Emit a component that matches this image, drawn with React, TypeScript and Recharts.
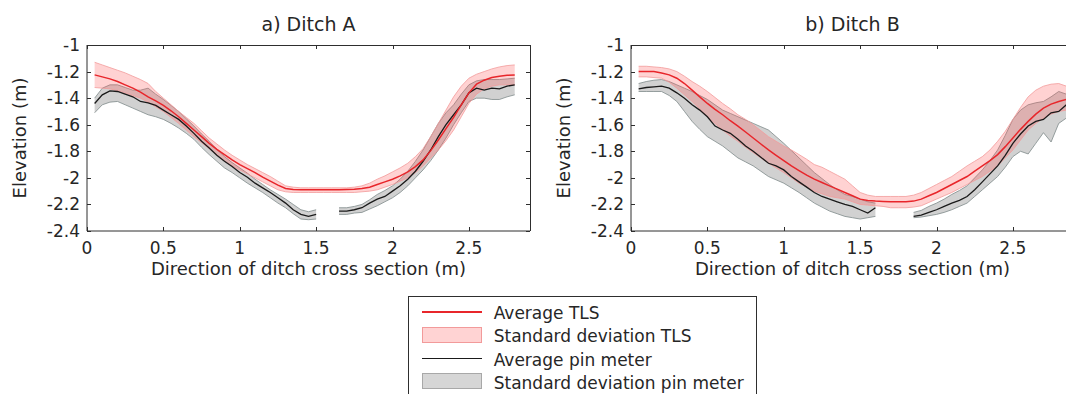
import { ComposedChart, Area, Line, XAxis, YAxis } from "recharts";

// positions along the cross section (m)
const distance = [
  0.05, 0.1, 0.15, 0.2, 0.25, 0.3, 0.35, 0.4, 0.45, 0.5,
  0.55, 0.6, 0.65, 0.7, 0.75, 0.8, 0.85, 0.9, 0.95, 1,
  1.05, 1.1, 1.15, 1.2, 1.25, 1.3, 1.35, 1.4, 1.45, 1.5,
  1.55, 1.6, 1.65, 1.7, 1.75, 1.8, 1.85, 1.9, 1.95, 2,
  2.05, 2.1, 2.15, 2.2, 2.25, 2.3, 2.35, 2.4, 2.45, 2.5,
  2.55, 2.6, 2.65, 2.7, 2.75, 2.8, 2.85,
];

// Ditch A
const tlsMeanA = [
  -1.225, -1.24, -1.255, -1.275, -1.3, -1.325, -1.355, -1.39, -1.42, -1.455,
  -1.495, -1.54, -1.59, -1.64, -1.69, -1.74, -1.785, -1.825, -1.865, -1.9,
  -1.93, -1.96, -1.995, -2.025, -2.055, -2.08, -2.088, -2.09, -2.09, -2.09,
  -2.09, -2.09, -2.09, -2.088, -2.085, -2.08, -2.07, -2.05, -2.03, -2.01,
  -1.985, -1.955, -1.915, -1.865, -1.795, -1.715, -1.63, -1.545, -1.45, -1.36,
  -1.295, -1.265, -1.245, -1.235, -1.228, -1.225, null,
];
const tlsHighA = [
  -1.13, -1.15, -1.17, -1.19, -1.21, -1.235, -1.26, -1.29, -1.35, -1.4,
  -1.45, -1.5, -1.545, -1.59, -1.645, -1.7, -1.745, -1.79, -1.83, -1.865,
  -1.9, -1.93, -1.96, -1.99, -2.025, -2.06, -2.07, -2.075, -2.075, -2.075,
  -2.075, -2.075, -2.075, -2.075, -2.07, -2.06, -2.04, -2.01, -1.985, -1.955,
  -1.925, -1.89, -1.84, -1.78, -1.69, -1.59, -1.49, -1.39, -1.31, -1.25,
  -1.22, -1.2, -1.18, -1.165, -1.155, -1.15, null,
];
const tlsLowA = [
  -1.32, -1.325, -1.33, -1.345, -1.36, -1.38, -1.4, -1.43, -1.465, -1.5,
  -1.545, -1.59, -1.64, -1.69, -1.735, -1.78, -1.83, -1.875, -1.91, -1.94,
  -1.97, -2, -2.03, -2.06, -2.09, -2.105, -2.11, -2.11, -2.11, -2.11,
  -2.11, -2.11, -2.11, -2.11, -2.11, -2.105, -2.1, -2.09, -2.07, -2.05,
  -2.025, -2, -1.96, -1.91, -1.85, -1.79, -1.72, -1.64, -1.54, -1.44,
  -1.37, -1.33, -1.31, -1.3, -1.3, -1.3, null,
];
const pinMeanA = [
  -1.44, -1.375, -1.345, -1.35, -1.37, -1.39, -1.425, -1.435, -1.455, -1.49,
  -1.525, -1.56, -1.61, -1.665, -1.725, -1.775, -1.83, -1.875, -1.915, -1.96,
  -1.995, -2.04, -2.075, -2.11, -2.15, -2.19, -2.24, -2.275, -2.29, -2.275,
  null, null, -2.25, -2.25, -2.24, -2.225, -2.19, -2.16, -2.14, -2.1,
  -2.06, -2.01, -1.95, -1.875, -1.79, -1.69, -1.6, -1.525, -1.45, -1.36,
  -1.325, -1.34, -1.325, -1.33, -1.31, -1.3, null,
];
const pinHighA = [
  -1.4, -1.325, -1.3, -1.3, -1.32, -1.34, -1.34, -1.325, -1.37, -1.41,
  -1.455, -1.5, -1.555, -1.61, -1.67, -1.725, -1.785, -1.84, -1.885, -1.925,
  -1.965, -2.01, -2.05, -2.09, -2.125, -2.16, -2.2, -2.24, -2.255, -2.24,
  null, null, -2.225, -2.225, -2.215, -2.2, -2.165, -2.125, -2.095, -2.06,
  -2.01, -1.95, -1.875, -1.79, -1.69, -1.59, -1.51, -1.45, -1.37, -1.3,
  -1.27, -1.26, -1.26, -1.26, -1.255, -1.25, null,
];
const pinLowA = [
  -1.51, -1.45, -1.43, -1.425, -1.45, -1.475, -1.5, -1.525, -1.54, -1.56,
  -1.59, -1.625, -1.665, -1.71, -1.77, -1.825, -1.875, -1.925, -1.96, -2,
  -2.04, -2.075, -2.11, -2.15, -2.19, -2.225, -2.27, -2.31, -2.315, -2.31,
  null, null, -2.275, -2.275, -2.265, -2.26, -2.235, -2.21, -2.18, -2.15,
  -2.11, -2.06, -2, -1.94, -1.87, -1.79, -1.7, -1.6, -1.51, -1.425,
  -1.4, -1.4, -1.41, -1.41, -1.39, -1.375, null,
];

// Ditch B
const tlsMeanB = [
  -1.2, -1.2, -1.2, -1.21, -1.225, -1.25, -1.29, -1.34, -1.39, -1.44,
  -1.485, -1.525, -1.57, -1.61, -1.655, -1.7, -1.745, -1.79, -1.83, -1.87,
  -1.91, -1.945, -1.98, -2.01, -2.035, -2.06, -2.085, -2.11, -2.135, -2.16,
  -2.17, -2.175, -2.178, -2.18, -2.18, -2.18, -2.175, -2.16, -2.135, -2.11,
  -2.08, -2.05, -2.02, -1.99, -1.95, -1.91, -1.87, -1.825, -1.765, -1.7,
  -1.635, -1.575, -1.52, -1.475, -1.445, -1.425, -1.41,
];
const tlsHighB = [
  -1.16, -1.16, -1.165, -1.17, -1.18, -1.2, -1.235, -1.275, -1.31, -1.35,
  -1.395, -1.44, -1.48, -1.525, -1.56, -1.6, -1.645, -1.69, -1.725, -1.76,
  -1.79, -1.825, -1.86, -1.9, -1.92, -1.95, -1.98, -2.01, -2.06, -2.11,
  -2.13, -2.14, -2.14, -2.14, -2.14, -2.14, -2.13, -2.11, -2.08, -2.05,
  -2.02, -1.99, -1.95, -1.91, -1.875, -1.84, -1.79, -1.725, -1.65, -1.56,
  -1.47, -1.39, -1.34, -1.31, -1.295, -1.29, -1.31,
];
const tlsLowB = [
  -1.24, -1.24, -1.245, -1.25, -1.28, -1.325, -1.375, -1.425, -1.48, -1.54,
  -1.59, -1.64, -1.685, -1.725, -1.77, -1.81, -1.85, -1.89, -1.925, -1.96,
  -2, -2.04, -2.07, -2.1, -2.12, -2.14, -2.15, -2.16, -2.18, -2.2,
  -2.205, -2.21, -2.215, -2.225, -2.225, -2.225, -2.22, -2.21, -2.185, -2.16,
  -2.135, -2.11, -2.08, -2.05, -2.02, -1.99, -1.95, -1.91, -1.85, -1.79,
  -1.715, -1.64, -1.59, -1.55, -1.52, -1.5, -1.49,
];
const pinMeanB = [
  -1.33, -1.32, -1.315, -1.31, -1.325, -1.36, -1.4, -1.45, -1.49, -1.54,
  -1.61, -1.64, -1.665, -1.71, -1.76, -1.8, -1.845, -1.89, -1.91, -1.94,
  -1.99, -2.03, -2.07, -2.11, -2.14, -2.16, -2.18, -2.2, -2.215, -2.24,
  -2.265, -2.225, null, null, null, null, -2.29, -2.28, -2.26, -2.24,
  -2.215, -2.19, -2.17, -2.14, -2.09, -2.03, -1.97, -1.91, -1.83, -1.74,
  -1.67, -1.61, -1.575, -1.56, -1.51, -1.5, -1.45,
];
const pinHighB = [
  -1.29, -1.275, -1.265, -1.26, -1.275, -1.3, -1.325, -1.35, -1.38, -1.41,
  -1.45, -1.49, -1.515, -1.54, -1.565, -1.59, -1.615, -1.64, -1.69, -1.74,
  -1.795, -1.85, -1.905, -1.96, -2.005, -2.05, -2.09, -2.125, -2.14, -2.16,
  -2.18, -2.19, null, null, null, null, -2.26, -2.245, -2.215, -2.19,
  -2.16, -2.125, -2.095, -2.06, -2, -1.94, -1.87, -1.79, -1.68, -1.56,
  -1.49, -1.45, -1.435, -1.425, -1.39, -1.35, -1.37,
];
const pinLowB = [
  -1.35, -1.35, -1.35, -1.35, -1.38, -1.425, -1.5, -1.575, -1.635, -1.69,
  -1.725, -1.76, -1.805, -1.85, -1.88, -1.91, -1.95, -1.99, -2.015, -2.04,
  -2.075, -2.11, -2.15, -2.19, -2.22, -2.25, -2.27, -2.29, -2.3, -2.31,
  -2.3, -2.29, null, null, null, null, -2.3, -2.295, -2.285, -2.275,
  -2.26, -2.24, -2.215, -2.19, -2.14, -2.09, -2.04, -1.99, -1.92, -1.84,
  -1.8, -1.82, -1.74, -1.66, -1.73, -1.59, -1.55,
];

const xTicks = [0, 0.5, 1, 1.5, 2, 2.5];
const yTicks = [-2.4, -2.2, -2, -1.8, -1.6, -1.4, -1.2, -1];
const X_MIN = 0;
const X_MAX = 2.9;
const Y_MIN = -2.4;
const Y_MAX = -1;

const FONT = '"DejaVu Sans", "Liberation Sans", sans-serif';
const INK = "#262626";
const AXIS = "#2e2e2e";
const RED = "#e8262b";
const PINK_FILL = "#ff5a5a";
const PINK_EDGE = "#f29a9a";
const GREY_FILL = "#9a9a9a";
const GREY_EDGE = "#7f8a8a";

function buildRows(
  tlsMean: (number | null)[],
  tlsLow: (number | null)[],
  tlsHigh: (number | null)[],
  pinMean: (number | null)[],
  pinLow: (number | null)[],
  pinHigh: (number | null)[]
) {
  return distance.map((x, i) => ({
    x,
    tls: tlsMean[i],
    tlsBand: tlsLow[i] == null ? null : [tlsLow[i], tlsHigh[i]],
    pin: pinMean[i],
    pinBand: pinLow[i] == null ? null : [pinLow[i], pinHigh[i]],
  }));
}

const rowsA = buildRows(tlsMeanA, tlsLowA, tlsHighA, pinMeanA, pinLowA, pinHighA);
const rowsB = buildRows(tlsMeanB, tlsLowB, tlsHighB, pinMeanB, pinLowB, pinHighB);

const W = 560;
const H = 300;
const Y_AXIS_W = 72;
const X_AXIS_H = 69;
const MARGIN = { top: 45, right: 30, bottom: 0, left: 15 };
const PLOT_L = MARGIN.left + Y_AXIS_W;
const PLOT_W = W - PLOT_L - MARGIN.right;
const PLOT_H = H - MARGIN.top - X_AXIS_H;
const TICK = 4;
const PANEL_LEFT = [0, 544];

// top and right sides of the MATLAB box plus inward ticks
function BoxEdges({ left }: { left: number }) {
  const px = (t: number) => left + PLOT_L + ((t - X_MIN) / (X_MAX - X_MIN)) * PLOT_W;
  const py = (t: number) => MARGIN.top + ((Y_MAX - t) / (Y_MAX - Y_MIN)) * PLOT_H;
  const mark = { position: "absolute" as const, background: AXIS };
  const x0 = left + PLOT_L;
  return (
    <>
      <div style={{ ...mark, left: x0, top: MARGIN.top, width: PLOT_W + 1, height: 1 }} />
      <div style={{ ...mark, left: x0 + PLOT_W, top: MARGIN.top, width: 1, height: PLOT_H }} />
      {xTicks.map((t) => (
        <div key={`b${t}`} style={{ ...mark, left: Math.round(px(t)), top: MARGIN.top + PLOT_H - TICK, width: 1, height: TICK }} />
      ))}
      {xTicks.map((t) => (
        <div key={`t${t}`} style={{ ...mark, left: Math.round(px(t)), top: MARGIN.top, width: 1, height: TICK }} />
      ))}
      {yTicks.map((t) => (
        <div key={`l${t}`} style={{ ...mark, left: x0, top: Math.round(py(t)), width: TICK, height: 1 }} />
      ))}
      {yTicks.map((t) => (
        <div key={`r${t}`} style={{ ...mark, left: x0 + PLOT_W - TICK, top: Math.round(py(t)), width: TICK, height: 1 }} />
      ))}
    </>
  );
}

function DitchPanel({ title, rows, left }: { title: string; rows: any[]; left: number }) {
  return (
    <div style={{ position: "absolute", left, top: 0 }}>
      <div
        style={{
          position: "absolute",
          left: PLOT_L,
          width: PLOT_W,
          top: 15,
          textAlign: "center",
          fontSize: 19,
          lineHeight: "19px",
          color: INK,
        }}
      >
        {title}
      </div>
      <ComposedChart width={W} height={H} data={rows} margin={MARGIN}>
        <XAxis
          dataKey="x"
          type="number"
          domain={[X_MIN, X_MAX]}
          ticks={xTicks}
          tickLine={false}
          tickSize={0}
          tickMargin={11}
          height={X_AXIS_H}
          stroke={AXIS}
          strokeWidth={1}
          tick={{ fill: INK, fontSize: 17 }}
          label={{
            value: "Direction of ditch cross section (m)",
            position: "insideBottom",
            offset: 25,
            fill: INK,
            fontSize: 18,
          }}
        />
        <YAxis
          type="number"
          domain={[Y_MIN, Y_MAX]}
          ticks={yTicks}
          width={Y_AXIS_W}
          tickLine={false}
          tickSize={0}
          tickMargin={7}
          stroke={AXIS}
          strokeWidth={1}
          tick={{ fill: INK, fontSize: 17 }}
          label={{
            value: "Elevation (m)",
            angle: -90,
            position: "insideLeft",
            offset: 4.5,
            fill: INK,
            fontSize: 18,
            style: { textAnchor: "middle" },
          }}
        />
        <Area
          dataKey="pinBand"
          type="linear"
          fill={GREY_FILL}
          fillOpacity={0.45}
          stroke={GREY_EDGE}
          strokeWidth={0.8}
          dot={false}
          activeDot={false}
          isAnimationActive={false}
        />
        <Area
          dataKey="tlsBand"
          type="linear"
          fill={PINK_FILL}
          fillOpacity={0.27}
          stroke={PINK_EDGE}
          strokeWidth={0.8}
          dot={false}
          activeDot={false}
          isAnimationActive={false}
        />
        <Line
          dataKey="pin"
          type="linear"
          stroke="#1a1a1a"
          strokeWidth={1.3}
          dot={false}
          activeDot={false}
          isAnimationActive={false}
        />
        <Line
          dataKey="tls"
          type="linear"
          stroke={RED}
          strokeWidth={1.5}
          dot={false}
          activeDot={false}
          isAnimationActive={false}
        />
      </ComposedChart>
    </div>
  );
}

function LegendBox() {
  const text = {
    position: "absolute" as const,
    left: 84.7,
    fontSize: 17,
    lineHeight: "17px",
    color: INK,
    whiteSpace: "nowrap" as const,
  };
  const sample = { position: "absolute" as const, left: 13, width: 60 };
  return (
    <div
      style={{
        position: "absolute",
        left: 408,
        top: 296,
        width: 349,
        height: 110,
        border: `1px solid ${AXIS}`,
        background: "#fff",
        boxSizing: "border-box",
      }}
    >
      <div style={{ ...sample, top: 13.5, height: 2, background: RED }} />
      <div style={{ ...text, top: 7.5 }}>Average TLS</div>
      <div style={{ ...sample, top: 30, height: 16, background: "#ffd3d3", border: `1px solid ${PINK_EDGE}`, boxSizing: "border-box" }} />
      <div style={{ ...text, top: 31 }}>Standard deviation TLS</div>
      <div style={{ ...sample, top: 60.5, height: 1.5, background: "#1a1a1a" }} />
      <div style={{ ...text, top: 54.5 }}>Average pin meter</div>
      <div style={{ ...sample, top: 76, height: 16, background: "#d6d6d6", border: "1px solid #a8a8a8", boxSizing: "border-box" }} />
      <div style={{ ...text, top: 78 }}>Standard deviation pin meter</div>
    </div>
  );
}

export default function App() {
  return (
    <div
      style={{
        position: "absolute",
        left: 0,
        top: 0,
        width: 1066,
        height: 394,
        overflow: "hidden",
        background: "#fff",
        fontFamily: FONT,
      }}
    >
      <DitchPanel title="a) Ditch A" rows={rowsA} left={PANEL_LEFT[0]} />
      <DitchPanel title="b) Ditch B" rows={rowsB} left={PANEL_LEFT[1]} />
      <BoxEdges left={PANEL_LEFT[0]} />
      <BoxEdges left={PANEL_LEFT[1]} />
      <LegendBox />
    </div>
  );
}
